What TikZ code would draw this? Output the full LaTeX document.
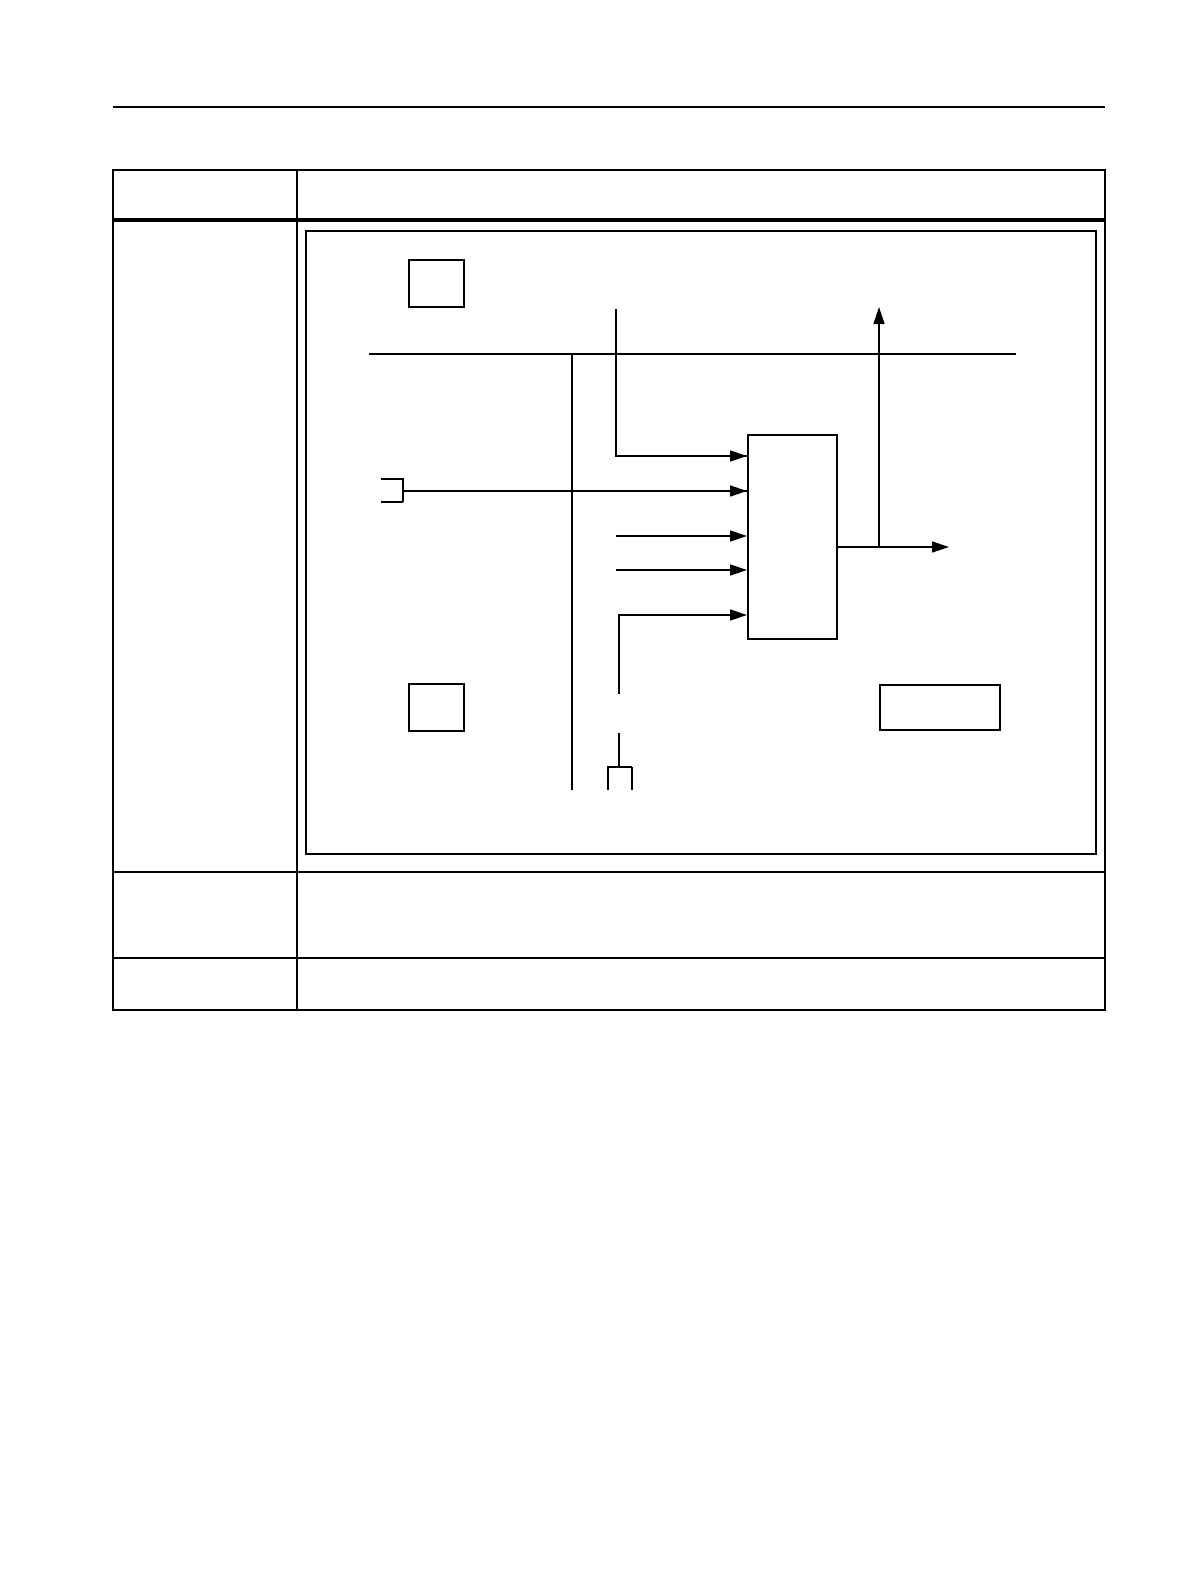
\documentclass[tikz,border=0pt]{standalone}
\usetikzlibrary{arrows.meta}
\begin{document}
\begin{tikzpicture}[x=1pt,y=-1pt,
  tbl/.style={line width=1.6pt},
  thin/.style={line width=1.4pt},
  thick/.style={line width=2.9pt},
  blk/.style={draw,line width=1.8pt,minimum width=#1,inner sep=0pt,anchor=north west},
  arr/.style={-{Triangle[length=17pt,width=11pt]}}
]
\useasboundingbox (0,0) rectangle (1190,1584);
% page rule and table
\draw[tbl] (113,107) -- (1105,107);
\draw[tbl] (113,170) rectangle (1105,1010);
\draw[line width=4pt] (113,220) -- (1105,220);
\draw[tbl] (297,170) -- (297,1010);
\draw[tbl] (113,872) -- (1105,872);
\draw[tbl] (113,958) -- (1105,958);
% inner frame
\draw[line width=2.8pt] (306,231) rectangle (1096,854);
% boxes
\node[blk=55pt,minimum height=47pt] (b1) at (408,259) {};
\node[blk=55pt,minimum height=47pt] (b2) at (408,683) {};
\node[blk=120pt,minimum height=45pt] (b3) at (879,684) {};
\node[blk=89pt,minimum height=204pt] (m) at (747,434) {};
% bus
\coordinate (busL) at (369,354);
\coordinate (busR) at (1016,354);
\draw[thin] (busL) -- (busR);
\coordinate (vtop) at (572,354);
\coordinate (vbot) at (572,790);
\draw[thin] (vtop) -- (vbot);
% thick input from top
\coordinate (t1) at (616,309);
\draw[thick] (t1) -- (616,456) -- (m.west |- 0,456);
\draw[arr,thin] (640,456) -- (m.west |- 0,456);
% left connector
\coordinate (c1) at (381,479);
\coordinate (c2) at (403,479);
\coordinate (c3) at (403,502);
\coordinate (c4) at (381,502);
\draw[thin] (c1) -- (c2) -- (c3);
\draw[thick] (c3) -- (c4);
\draw[thick] (403,491) -- (m.west |- 0,491);
\draw[arr,thin] (700,491) -- (m.west |- 0,491);
% two straight inputs
\coordinate (i3) at (616,536);
\coordinate (i4) at (616,570);
\draw[arr,thin] (i3) -- (m.west |- i3);
\draw[arr,thin] (i4) -- (m.west |- i4);
% lower input
\coordinate (i5) at (619,694);
\draw[arr,thin] (i5) -- (619,615) -- (m.west |- 0,615);
% bottom stub with small box
\coordinate (s1) at (619,733);
\coordinate (s2) at (619,767);
\draw[thin] (s1) -- (s2);
\draw[thin] (608,790) -- (608,767) -- (632,767);
\draw[thick] (632,767) -- (632,790);
% output
\coordinate (o1) at (949,547);
\coordinate (j) at (879,547);
\coordinate (up) at (879,307);
\draw[arr,thin] (m.east |- 0,547) -- (o1);
\draw[arr,thin] (j) -- (up);
\end{tikzpicture}
\end{document}
